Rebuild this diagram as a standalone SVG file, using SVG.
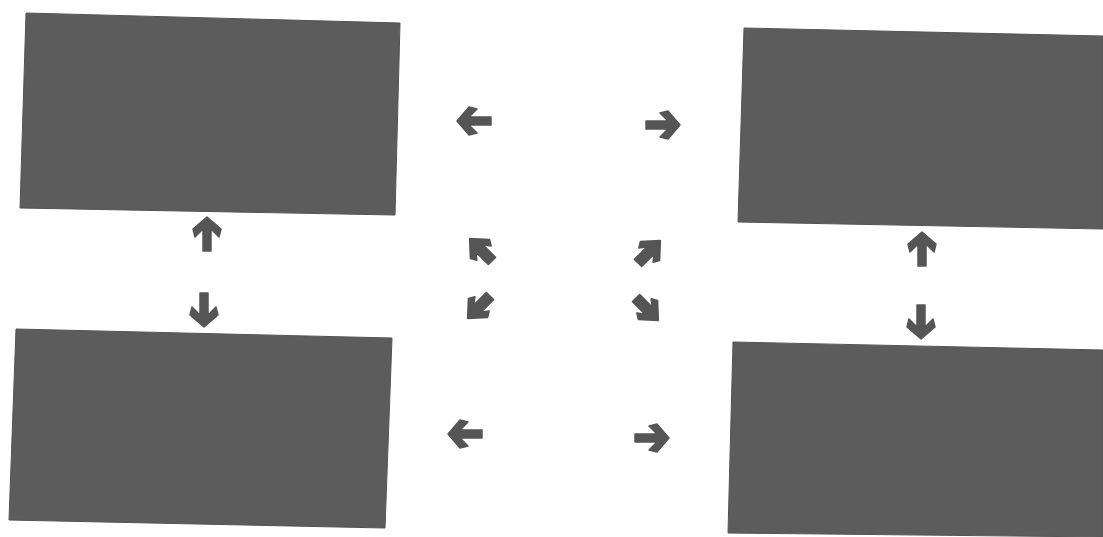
<svg xmlns="http://www.w3.org/2000/svg" width="1103" height="537" viewBox="0 0 1103 537">
<style>
.box{fill:#5c5c5c;stroke:#555;stroke-width:1}
.arr{fill:#555;stroke:#555;stroke-width:1.5;stroke-linejoin:round}
</style>
<defs>
<path id="a" d="M17,0 L5,-14 L-3,-12 L5,-4 L-17,-4 L-17,4 L5,4 L-3,12 L5,14 Z"/>
<path id="b" d="M13,0 L0,-12 L-5,-9 L1,-4.5 L-15,-4.5 L-15,4.5 L1,4.5 L-5,9 L0,12 Z"/>
</defs>
<rect width="1103" height="537" fill="#fff"/>
<g id="node-top-left"><polygon class="box" points="26,13 400,23 395,215 20,208"/></g>
<g id="node-top-right"><polygon class="box" points="744,28 1103,36 1103,229 738,222"/></g>
<g id="node-bottom-left"><polygon class="box" points="16,329 392,338 385,528 9,520"/></g>
<g id="node-bottom-right"><polygon class="box" points="733,342 1103,350 1103,537 728,533"/></g>
<g id="connectors" class="arr">
<use href="#a" transform="translate(474,121) rotate(180)"/>
<use href="#a" transform="translate(663,125)"/>
<use href="#b" transform="translate(480,249) rotate(-135) scale(1.12)"/>
<use href="#b" transform="translate(650,251) rotate(-45) scale(1.12)"/>
<use href="#b" transform="translate(478,308) rotate(135) scale(1.12)"/>
<use href="#b" transform="translate(648,310) rotate(45) scale(1.12)"/>
<use href="#a" transform="translate(465,434) rotate(180)"/>
<use href="#a" transform="translate(652,438)"/>
<use href="#a" transform="translate(207,234) rotate(-90)"/>
<use href="#a" transform="translate(204,310) rotate(90)"/>
<use href="#a" transform="translate(922,249) rotate(-90)"/>
<use href="#a" transform="translate(921,322) rotate(90)"/>
</g>
</svg>
